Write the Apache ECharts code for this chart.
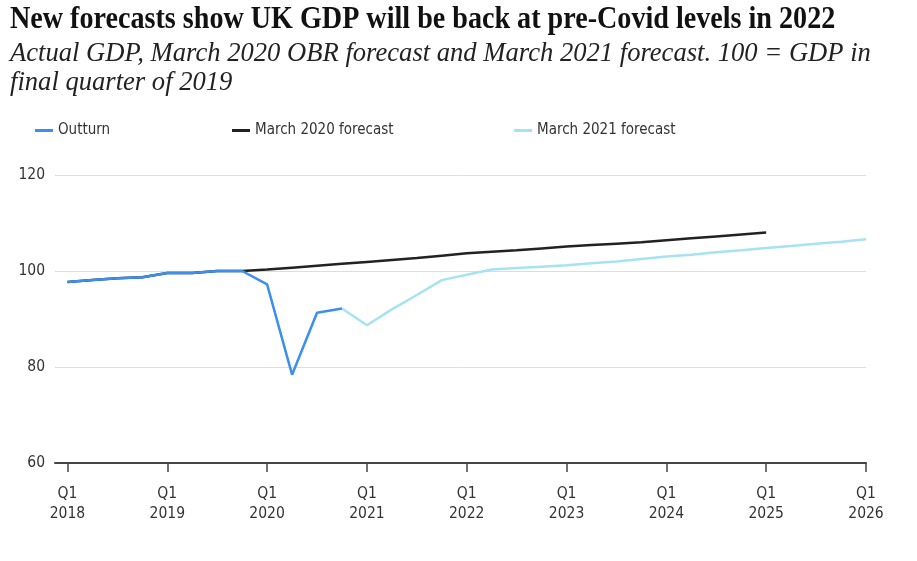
<!DOCTYPE html>
<html>
<head>
<meta charset="utf-8">
<script src="https://cdn.jsdelivr.net/npm/echarts@6/dist/echarts.min.js"></script>
<style>html,body{margin:0;padding:0;background:#fff}#c{width:917px;height:561px}</style>
</head>
<body>
<div id="c"></div>
<script>
var quarters = [];
for (var yr = 2018; yr <= 2026; yr++) { for (var q = 1; q <= 4; q++) { if (yr === 2026 && q > 1) break; quarters.push('Q' + q + ' ' + yr); } }
var tickIndexes = [0, 4, 8, 12, 16, 20, 24, 28, 32];
var yTicks = [60, 80, 100, 120];

// index 0 = Q1 2018
var outturn = [97.7, 98.1, 98.5, 98.7, 99.6, 99.6, 100.0, 100.0, 97.2, 78.4, 91.3, 92.2];
var march2020 = [97.7, 98.1, 98.5, 98.7, 99.6, 99.6, 100.0, 100.0, 100.3, 100.7, 101.1, 101.5, 101.9, 102.3, 102.7, 103.2, 103.7, 104.0, 104.3, 104.7, 105.1, 105.4, 105.7, 106.0, 106.4, 106.8, 107.2, 107.6, 108.0];
var march2021Start = 11;
var march2021 = [92.2, 88.7, 92.0, 95.0, 98.1, 99.2, 100.3, 100.6, 100.9, 101.2, 101.6, 102.0, 102.5, 103.0, 103.4, 103.9, 104.3, 104.8, 105.2, 105.7, 106.1, 106.6];

function pairs(arr, start) { return arr.map(function (v, i) { return [start + i, v]; }); }

var chart = echarts.init(document.getElementById('c'));
var lab = '"DejaVu Sans Condensed", "Liberation Sans Narrow", sans-serif';
function legend(name, left) {
  return { data: [name], left: left, top: 118, icon: 'rect', itemWidth: 18, itemHeight: 3, itemGap: 8,
    textStyle: { fontFamily: lab, fontSize: 15, color: '#333' } };
}
chart.setOption({
  animation: false,
  color: ['#3b8fef', '#222222', '#a6e3f2'],
  graphic: [
    { type: 'text', x: 10, y: 4, scaleX: 0.907, style: { text: 'New forecasts show UK GDP will be back at pre-Covid levels in 2022', font: 'bold 31px "Liberation Serif", serif', fill: '#111', textVerticalAlign: 'top' } },
    { type: 'text', x: 10, y: 39, scaleX: 0.95, style: { text: 'Actual GDP, March 2020 OBR forecast and March 2021 forecast. 100 = GDP in\nfinal quarter of 2019', font: 'italic 28px "Liberation Serif", serif', lineHeight: 29, fill: '#222', textVerticalAlign: 'top' } }
  ],
  legend: [legend('Outturn', 30), legend('March 2020 forecast', 227), legend('March 2021 forecast', 509)],
  grid: { left: 55, right: 51, top: 175, bottom: 98 },
  xAxis: {
    type: 'value', min: -0.5, max: 32,
    splitLine: { show: false },
    axisLine: { lineStyle: { color: '#444', width: 2 } },
    axisTick: { show: true, customValues: tickIndexes, length: 9, lineStyle: { color: '#444', width: 1.5 } },
    axisLabel: { customValues: tickIndexes, formatter: function (v) { return quarters[v].replace(' ', '\n'); },
      fontFamily: lab, fontSize: 15.5, color: '#333', lineHeight: 20, margin: 21 }
  },
  yAxis: {
    type: 'value', min: 60, max: 120, interval: 20,
    axisLine: { show: false }, axisTick: { show: false },
    splitLine: { lineStyle: { color: '#dddddd', width: 1 } },
    axisLabel: { fontFamily: lab, fontSize: 15.5, color: '#333', margin: 10 }
  },
  series: [
    { name: 'Outturn', type: 'line', data: pairs(outturn, 0), showSymbol: false, lineStyle: { width: 2.5 }, z: 4 },
    { name: 'March 2020 forecast', type: 'line', data: pairs(march2020, 0), showSymbol: false, lineStyle: { width: 2.5 }, z: 3 },
    { name: 'March 2021 forecast', type: 'line', data: pairs(march2021, march2021Start), showSymbol: false, lineStyle: { width: 2.5 }, z: 2 }
  ]
});
</script>
</body>
</html>
